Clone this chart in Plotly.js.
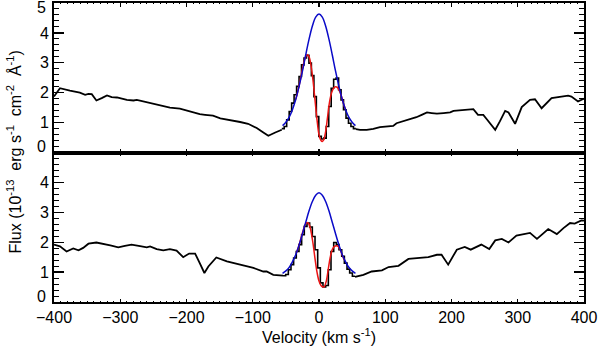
<!DOCTYPE html>
<html><head><meta charset="utf-8">
<script src="https://cdn.plot.ly/plotly-3.0.1.min.js"></script>
<style>body{margin:0;padding:0;background:#fff}#g{width:600px;height:352px}</style>
</head><body><div id="g"></div>
<script>
// ---------- TOP PANEL DATA ----------
const topContLeftV = [-400,-395,-391,-376,-361,-353,-348,-343,-336,-328,-320,-313,-305,-290,-280,-275,-265,-250,-235,-225,-210,-195,-180,-172,-160,-149,-134,-119,-107,-94,-84,-76.5,-66,-60,-56.2];
const topContLeftF = [1.87,2.05,2.15,2.07,2.0,1.93,1.96,1.95,1.74,1.82,1.91,1.85,1.84,1.76,1.74,1.76,1.71,1.62,1.54,1.5,1.47,1.37,1.28,1.26,1.23,1.14,1.09,1.02,0.96,0.82,0.67,0.56,0.67,0.72,0.76];
const topContRightV = [55.7,62,72,82,92,102,112,117,127,137,147,155,163,170,178,188,198,203,218,233,240,248,253,266,273,281,286,296,306,318.5,326,336,351,364,376,381,391,398,400];
const topContRightF = [0.78,0.76,0.76,0.79,0.85,0.87,0.89,0.98,1.04,1.12,1.18,1.26,1.34,1.32,1.3,1.32,1.34,1.39,1.43,1.45,1.26,1.26,1.12,0.76,1.04,1.39,1.34,0.96,1.52,1.76,1.78,1.48,1.82,1.87,1.9,1.87,1.71,1.78,1.8];
const topBinLeft = [-56.2,-52.5,-48.8,-45.0,-41.3,-37.6,-33.8,-30.1,-26.4,-22.6,-18.9,-15.2,-11.5,-7.7,-4.0,-0.3,3.5,7.2,10.9,14.7,18.4,22.1,25.8,29.6,33.3,37.0,40.8,44.5,48.2,52.0];
const topBinEnd = 55.7;
const topBinF = [0.8,0.87,1.09,1.37,1.65,1.93,2.21,2.54,2.93,3.16,3.25,2.99,2.57,1.87,1.2,0.54,0.45,0.48,0.87,1.54,2.15,2.45,2.49,2.1,1.76,1.43,1.15,0.98,0.87,0.8];
const topRedV = [-35,-32,-28,-24,-21,-18,-15,-12,-9,-6,-3,0,3,5,7,10,13,16,19,22,25,28,31,34,37,40];
const topRedF = [1.78,2.05,2.45,2.9,3.15,3.27,3.2,2.9,2.4,1.75,1.1,0.6,0.4,0.37,0.42,0.7,1.2,1.7,2.0,2.15,2.2,2.17,2.05,1.87,1.63,1.44];
const blueV = [-55,-50,-45,-40,-35,-30,-25,-20,-15,-10,-5,0,5,10,15,20,25,30,35,40,45,50,55];
const topBlueF = [0.9,1.01,1.18,1.44,1.78,2.22,2.72,3.27,3.79,4.23,4.53,4.63,4.53,4.23,3.79,3.27,2.72,2.22,1.78,1.44,1.18,1.01,0.9];

// ---------- BOTTOM PANEL DATA ----------
const botContLeftV = [-400,-391,-381,-371,-363,-356,-348,-336,-315,-303,-293,-283,-270,-260,-255,-245,-235,-225,-215,-205,-196,-187,-180,-173,-167,-155,-139,-119,-99,-84,-79,-69,-60,-54.3];
const botContLeftF = [1.92,1.86,1.69,1.79,1.73,1.81,1.95,1.99,1.89,1.83,1.88,1.92,1.87,1.83,1.86,1.77,1.73,1.77,1.72,1.5,1.62,1.62,1.3,0.97,1.19,1.49,1.36,1.25,1.14,1.02,1.02,0.91,0.88,0.88];
const botContRightV = [54.4,67,79.5,95,105,120,135,150,165,178,185,195,208,220,229,245,257,266,276,286,298,318.5,329,346,359,369,379,386,396,400];
const botContRightF = [0.84,0.91,1.02,1.06,1.17,1.21,1.44,1.47,1.5,1.58,1.58,1.25,1.75,1.84,1.75,1.92,1.77,2.06,2.11,1.99,2.22,2.31,2.11,2.44,2.27,2.47,2.64,2.62,2.73,2.72];
const botBinLeft = [-54.3,-50.3,-46.3,-42.3,-38.3,-34.3,-30.2,-26.2,-22.2,-18.1,-14.1,-10.1,-6.0,-2.0,2.0,6.0,10.1,14.1,18.1,22.2,26.2,30.2,34.3,38.3,42.3,46.3,50.4];
const botBinEnd = 54.4;
const botBinF = [0.88,0.92,1.08,1.25,1.47,1.69,1.92,2.25,2.53,2.64,2.51,2.19,1.75,1.14,0.64,0.5,0.55,1.08,1.69,1.99,1.92,1.75,1.53,1.3,1.1,0.97,0.86];
const botRedV = [-34,-30,-27,-24,-21,-18,-15,-12,-9,-6,-3,0,3,6,8,11,14,17,20,23,26,29,32,35,38];
const botRedF = [1.65,1.91,2.15,2.38,2.58,2.66,2.6,2.35,1.95,1.45,1.0,0.7,0.55,0.5,0.51,0.7,1.1,1.5,1.75,1.85,1.88,1.86,1.75,1.57,1.41];
const botBlueF = [0.96,1.04,1.16,1.35,1.59,1.91,2.28,2.67,3.05,3.36,3.57,3.65,3.57,3.36,3.05,2.67,2.28,1.91,1.59,1.35,1.16,1.04,0.96];

const xTicks = [-400,-300,-200,-100,0,100,200,300,400];
const yTicks = [1,2,3,4];
const yEdgeLabels = ['0','5'];

const BLACK='#000', RED='rgb(235,20,20)', BLUE='rgb(10,10,200)';
function steps(left, end, f){ return {x: left.concat([end]), y: f.concat([f[f.length-1]])}; }
function panel(xa, ya, cl, cr, bl, be, bf, rv, rf, bv, bfl){
  const s = steps(bl, be, bf);
  return [
    {x: cl[0], y: cl[1], xaxis: xa, yaxis: ya, mode:'lines', line:{color:BLACK,width:1.8}},
    {x: cr[0], y: cr[1], xaxis: xa, yaxis: ya, mode:'lines', line:{color:BLACK,width:1.8}},
    {x: s.x, y: s.y, xaxis: xa, yaxis: ya, mode:'lines', line:{color:BLACK,width:1.6,shape:'hv'}},
    {x: rv, y: rf, xaxis: xa, yaxis: ya, mode:'lines', line:{color:RED,width:1.5,shape:'spline'}},
    {x: bv, y: bfl, xaxis: xa, yaxis: ya, mode:'lines', line:{color:BLUE,width:1.5,shape:'spline'}}
  ];
}
const traces = [].concat(
  panel('x2','y2',[topContLeftV,topContLeftF],[topContRightV,topContRightF],topBinLeft,topBinEnd,topBinF,topRedV,topRedF,blueV,topBlueF),
  panel('x','y',[botContLeftV,botContLeftF],[botContRightV,botContRightF],botBinLeft,botBinEnd,botBinF,botRedV,botRedF,blueV,botBlueF)
);
const FONT = {family:'"Liberation Sans", Arial, Helvetica, sans-serif', size:16, color:'#000'};
function xax(extra){ return Object.assign({range:[-400,400], tickmode:'array', tickvals:xTicks, ticks:'inside', ticklen:3.5, tickwidth:1.3, tickcolor:'#000',
  showline:true, linewidth:2, linecolor:'#000', mirror:'ticks', showgrid:false, zeroline:false,
  minor:{dtick:10, ticks:'inside', ticklen:1.4, tickwidth:1, tickcolor:'#000', showgrid:false}, tickfont:FONT}, extra); }
function yax(extra){ return Object.assign({range:[0,5], tickmode:'array', tickvals:yTicks, ticks:'inside', ticklen:10, tickwidth:1.3, tickcolor:'#000',
  showline:true, linewidth:2, linecolor:'#000', mirror:'ticks', showgrid:false, zeroline:false,
  minor:{dtick:0.2, ticks:'inside', ticklen:5, tickwidth:1, tickcolor:'#000', showgrid:false}, tickfont:FONT}, extra); }
function edgeLabel(txt, yref, yv, shift){ return {text:txt, xref:'paper', x:0, xanchor:'right', xshift:-6, yref:yref, y:yv, yanchor:'middle', yshift:shift, showarrow:false, font:FONT}; }
const layout = {
  width:600, height:352, margin:{l:54, r:16, t:3, b:50}, showlegend:false,
  paper_bgcolor:'#fff', plot_bgcolor:'#fff', font:FONT,
  xaxis: xax({domain:[0,1], anchor:'y', title:{text:'Velocity (km s<sup>-1</sup>)', font:FONT, standoff:5}}),
  xaxis2: xax({domain:[0,1], anchor:'y2', matches:'x', showticklabels:false}),
  yaxis: yax({domain:[0,0.5], anchor:'x'}),
  yaxis2: yax({domain:[0.5,1], anchor:'x2'}),
  annotations:[
    edgeLabel(yEdgeLabels[0],'y',0,6), edgeLabel(yEdgeLabels[0],'y2',0,6), edgeLabel(yEdgeLabels[1],'y2',5,-4),
    {text:'Flux (10<sup>-13</sup>  erg s<sup>-1</sup>  cm<sup>-2</sup>  Å<sup>-1</sup>)', textangle:-90, xref:'paper', x:0, xanchor:'center', xshift:-40, yref:'paper', y:0.5, yanchor:'middle', showarrow:false, font:FONT}
  ]
};
Plotly.newPlot('g', traces, layout, {staticPlot:true, displayModeBar:false});
</script></body></html>
